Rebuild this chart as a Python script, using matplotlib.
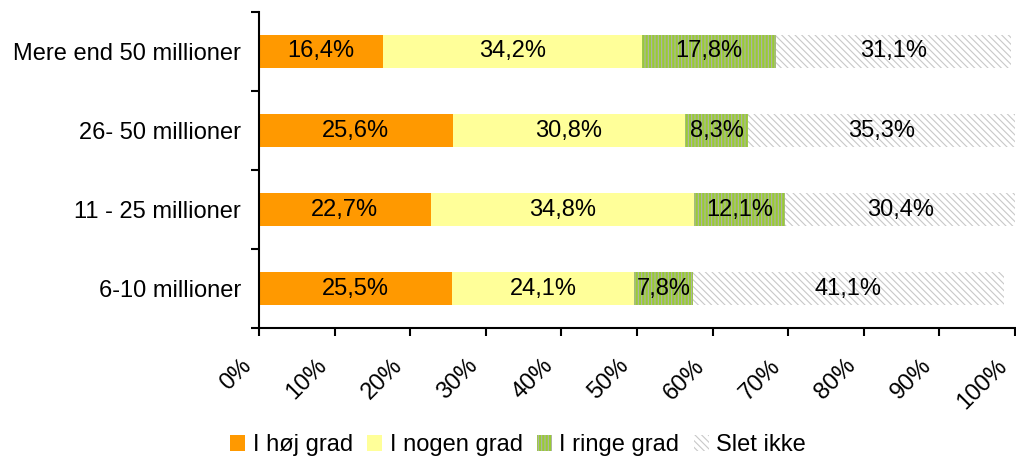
import numpy as np
import matplotlib.pyplot as plt
import matplotlib.transforms as mtransforms

plt.rcParams['font.family'] = ['Liberation Sans', 'DejaVu Sans']
plt.rcParams['hatch.linewidth'] = 0.8

# Data (bund til top)
categories = ['6-10 millioner', '11 - 25 millioner', '26- 50 millioner', 'Mere end 50 millioner']
hoej = [25.5, 22.7, 25.6, 16.4]
nogen = [24.1, 34.8, 30.8, 34.2]
ringe = [7.8, 12.1, 8.3, 17.8]
slet = [41.1, 30.4, 35.3, 31.1]
series_names = ['I høj grad', 'I nogen grad', 'I ringe grad', 'Slet ikke']

fig = plt.figure(figsize=(10.16, 4.59), dpi=100)
ax = fig.add_axes([0.255, 0.285, 0.744, 0.689])

y = np.arange(len(categories))
h = 0.41
left = np.zeros(len(categories))
styles = [
    dict(color='#ff9900', edgecolor='#ff9900', hatch=None),
    dict(color='#ffff99', edgecolor='#ffff99', hatch=None),
    dict(color='#99cc33', edgecolor='#b0b0b0', hatch='|||||'),
    dict(color='white', edgecolor='#c8c8c8', hatch='\\\\\\\\\\'),
]
for vals, name, st in zip([hoej, nogen, ringe, slet], series_names, styles):
    ax.barh(y, vals, left=left, height=h, color=st['color'], edgecolor=st['edgecolor'],
            hatch=st['hatch'], linewidth=0, label=name)
    for yi, l, v in zip(y, left, vals):
        ax.text(l + v / 2, yi, f'{v:.1f}'.replace('.', ',') + '%', ha='center', va='center',
                fontsize=17, color='black')
    left = left + np.array(vals)

ax.set_xlim(0, 100)
ax.set_ylim(-0.5, len(categories) - 0.5)
ax.set_xticks(np.arange(0, 101, 10))
ax.set_xticklabels([f'{v}%' for v in range(0, 101, 10)], rotation=45, ha='right',
                   rotation_mode='anchor', fontsize=17)
ax.set_yticks(y)
ax.set_yticklabels(categories, fontsize=17)
ax.set_yticks(np.arange(-0.5, len(categories), 1), minor=True)
ax.tick_params(axis='y', which='major', length=0, pad=13)
ax.tick_params(axis='y', which='minor', length=6, width=1.5, direction='out')
ax.tick_params(axis='x', length=6, width=1.5, direction='out', pad=14)

# flyt etiketterne lidt mod venstre (efter tick_params, ellers nulstilles de)
offset = mtransforms.ScaledTranslation(-0.19, 0.01, fig.dpi_scale_trans)
for lab in ax.get_xticklabels():
    lab.set_transform(lab.get_transform() + offset)

for s in ['top', 'right']:
    ax.spines[s].set_visible(False)
ax.spines['left'].set_linewidth(1.5)
ax.spines['bottom'].set_linewidth(1.5)

fig.legend(loc='lower center', bbox_to_anchor=(0.51, -0.04), ncol=4, frameon=False,
           fontsize=17, handlelength=0.64, handleheight=0.64, handletextpad=0.3,
           columnspacing=0.62)

fig.savefig('out.png', dpi=100)
